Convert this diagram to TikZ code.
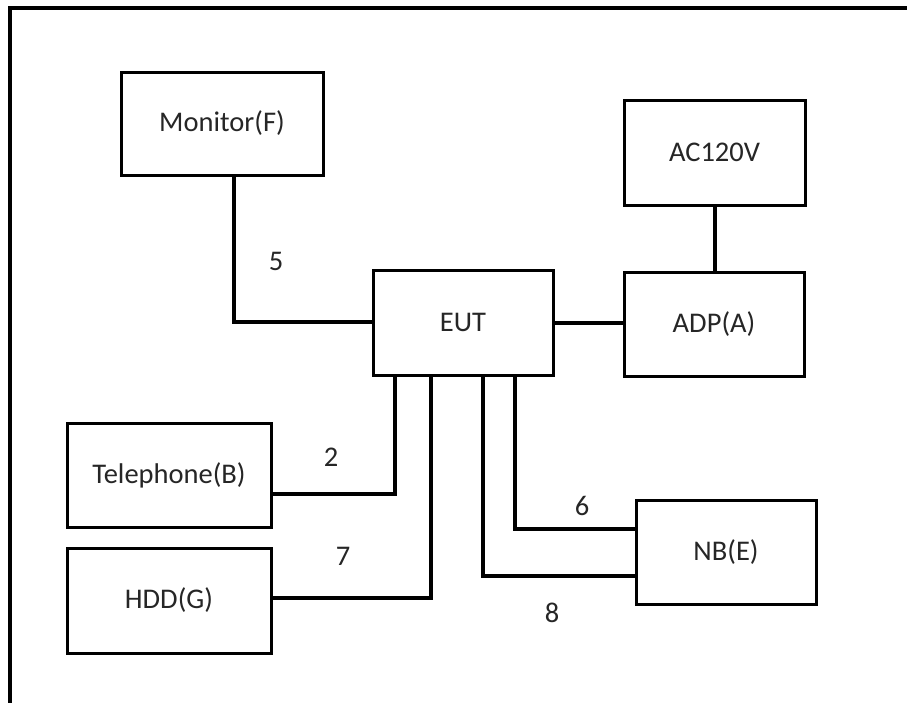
\documentclass[tikz,border=0pt]{standalone}
\usepackage{fontspec}
\setmainfont{Carlito}
\begin{document}
\begin{tikzpicture}[x=1pt,y=-1pt,
  box/.style={draw=black,line width=3pt,fill=white,rectangle,inner sep=0pt,
    font=\fontsize{28.5}{34}\selectfont,text=black!85},
  wire/.style={draw=black,line width=4.5pt,line cap=rect},
  lbl/.style={font=\fontsize{28.5}{34}\selectfont,text=black!85,inner sep=0pt}]
\useasboundingbox (0,0) rectangle (907,702);
\draw[line width=3.5pt] (10,704) -- (10,8) -- (907,8);
% boxes
\node[box,minimum width=202pt,minimum height=103pt] (mon) at (222,123.5) {Monitor(F)};
\node[box,minimum width=181pt,minimum height=105pt] (ac) at (714.5,152.5) {AC120V};
\node[box,minimum width=180pt,minimum height=105pt] (eut) at (463,322.5) {EUT};
\node[box,minimum width=180pt,minimum height=104pt] (adp) at (714,324) {ADP(A)};
\node[box,minimum width=204pt,minimum height=104pt] (tel) at (169,475) {Telephone(B)};
\node[box,minimum width=204pt,minimum height=105pt] (hdd) at (169,600.5) {HDD(G)};
\node[box,minimum width=180pt,minimum height=104pt] (nb) at (726,552) {NB(E)};
% connectors
\draw[wire] (mon.south -| 234,0) |- (eut.west |- 0,322);
\draw[wire] (eut.east |- 0,323) -- (adp.west |- 0,323);
\draw[wire] (ac.south -| 715,0) -- (adp.north -| 715,0);
\draw[wire] (eut.south -| 395,0) |- (tel.east |- 0,494);
\draw[wire] (eut.south -| 431,0) |- (hdd.east |- 0,598);
\draw[wire] (eut.south -| 483,0) |- (nb.west |- 0,576);
\draw[wire] (eut.south -| 515,0) |- (nb.west |- 0,529);
% labels
\node[lbl] (l5) at (276,261) {5};
\node[lbl] (l2) at (331,457) {2};
\node[lbl] (l7) at (343,556) {7};
\node[lbl] (l6) at (582,506) {6};
\node[lbl] (l8) at (552,613) {8};
\end{tikzpicture}
\end{document}
